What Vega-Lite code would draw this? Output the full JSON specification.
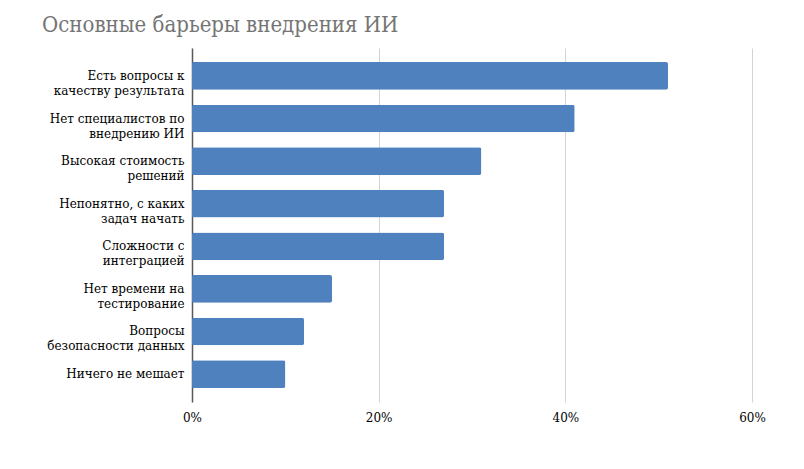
{
  "$schema": "https://vega.github.io/schema/vega-lite/v6.json",
  "width": 560,
  "height": 354,
  "autosize": "none",
  "padding": {"left": 192, "top": 48, "right": 52, "bottom": 67},
  "background": "white",
  "title": {
    "text": "Основные барьеры внедрения ИИ",
    "anchor": "start",
    "frame": "group",
    "dx": -150,
    "offset": -6,
    "baseline": "alphabetic",
    "font": "DejaVu Serif Condensed",
    "fontSize": 22,
    "fontWeight": "normal",
    "color": "#757575"
  },
  "data": {
    "values": [
      {"barrier": "Есть вопросы к\nкачеству результата", "share": 0.51},
      {"barrier": "Нет специалистов по\nвнедрению ИИ", "share": 0.41},
      {"barrier": "Высокая стоимость\nрешений", "share": 0.31},
      {"barrier": "Непонятно, с каких\nзадач начать", "share": 0.27},
      {"barrier": "Сложности с\nинтеграцией", "share": 0.27},
      {"barrier": "Нет времени на\nтестирование", "share": 0.15},
      {"barrier": "Вопросы\nбезопасности данных", "share": 0.12},
      {"barrier": "Ничего не мешает", "share": 0.10}
    ]
  },
  "mark": {"type": "bar", "color": "#4e81bd", "cornerRadius": 2},
  "encoding": {
    "y": {
      "field": "barrier",
      "type": "nominal",
      "sort": null,
      "title": null,
      "scale": {"paddingInner": 0.35, "paddingOuter": 0.33},
      "axis": {
        "labelExpr": "split(datum.label, '\\n')",
        "labelFont": "DejaVu Serif",
        "labelFontSize": 12,
        "labelColor": "#000000",
        "labelLineHeight": 15,
        "labelPadding": 8,
        "labelLimit": 200,
        "ticks": false,
        "domainColor": "#595959",
        "domainWidth": 1.5,
        "grid": false
      }
    },
    "x": {
      "field": "share",
      "type": "quantitative",
      "title": null,
      "scale": {"domain": [0, 0.6]},
      "axis": {
        "values": [0, 0.2, 0.4, 0.6],
        "format": ".0%",
        "labelFont": "DejaVu Serif",
        "labelFontSize": 12,
        "labelColor": "#000000",
        "labelPadding": 10,
        "labelFlush": false,
        "ticks": false,
        "domain": false,
        "grid": true,
        "gridColor": "#d4d4d4",
        "gridWidth": 1
      }
    }
  },
  "config": {"view": {"stroke": null}}
}
